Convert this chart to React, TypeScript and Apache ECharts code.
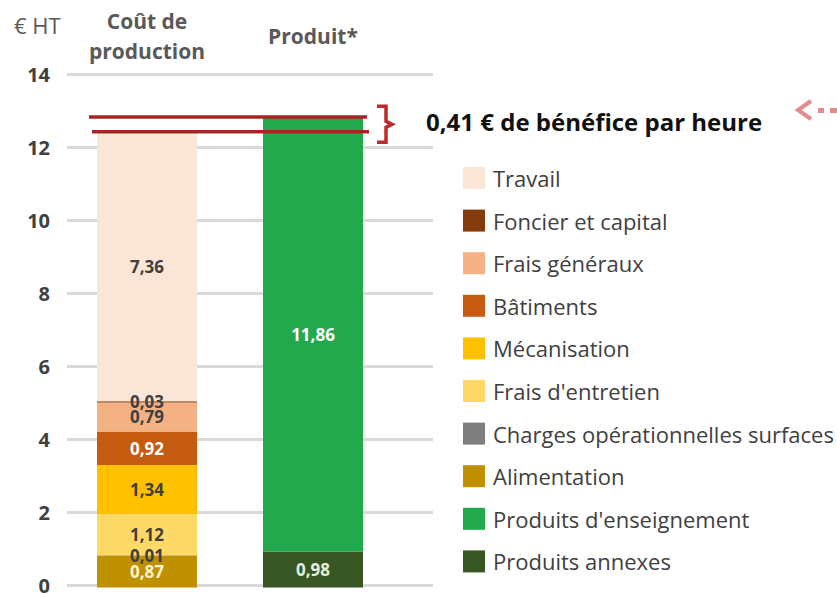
import React, { useEffect, useRef } from 'react';
import * as echarts from 'echarts';

const FONT = '"Open Sans", "Noto Sans", sans-serif';

const categories = ['Coût de\nproduction', 'Produit*'];
const yMin = 0;
const yMax = 14;
const yInterval = 2;

// values per category: [Coût de production, Produit*]
const alimentation = [0.87, null];
const chargesOperationnelles = [0.01, null];
const fraisEntretien = [1.12, null];
const mecanisation = [1.34, null];
const batiments = [0.92, null];
const fraisGeneraux = [0.79, null];
const foncierCapital = [0.03, null];
const travail = [7.36, null];
const produitsAnnexes = [null, 0.98];
const produitsEnseignement = [null, 11.86];

const legendOrder = [
  'Travail',
  'Foncier et capital',
  'Frais généraux',
  'Bâtiments',
  'Mécanisation',
  "Frais d'entretien",
  'Charges opérationnelles surfaces',
  'Alimentation',
  "Produits d'enseignement",
  'Produits annexes',
];

const benefitText = '0,41 € de bénéfice par heure';
const unitText = '€ HT';

const seriesDefs = [
  { name: 'Produits annexes', data: produitsAnnexes, color: '#375623', label: '#e2efda' },
  { name: "Produits d'enseignement", data: produitsEnseignement, color: '#22a84d', label: '#ffffff' },
  { name: 'Alimentation', data: alimentation, color: '#bf9000', label: '#fff2cc' },
  { name: 'Charges opérationnelles surfaces', data: chargesOperationnelles, color: '#7f7f7f', label: '#404040' },
  { name: "Frais d'entretien", data: fraisEntretien, color: '#ffd966', label: '#404040' },
  { name: 'Mécanisation', data: mecanisation, color: '#ffc000', label: '#404040' },
  { name: 'Bâtiments', data: batiments, color: '#c55a11', label: '#ffffff' },
  { name: 'Frais généraux', data: fraisGeneraux, color: '#f4b183', label: '#404040' },
  { name: 'Foncier et capital', data: foncierCapital, color: '#843c0c', label: '#404040' },
  { name: 'Travail', data: travail, color: '#fbe5d6', label: '#404040' },
];

const fmt = (v: number) => v.toFixed(2).replace('.', ',');

export default function App() {
  const ref = useRef<HTMLDivElement>(null);

  useEffect(() => {
    if (!ref.current) return;
    const chart = echarts.init(ref.current, null, { renderer: 'svg' });

    const series = seriesDefs.map((s) => ({
      name: s.name,
      type: 'bar',
      stack: 'total',
      xAxisIndex: 1,
      yAxisIndex: 1,
      barWidth: 100,
      data: s.data,
      itemStyle: { color: s.color },
      label: {
        show: true,
        position: 'inside',
        color: s.label,
        fontFamily: FONT,
        fontWeight: 'bold',
        fontSize: 17,
        formatter: (p: any) => (p.value == null ? '' : fmt(p.value)),
      },
    }));

    chart.setOption({
      animation: false,
      backgroundColor: '#ffffff',
      title: {
        text: unitText,
        left: 9,
        top: 9,
        textStyle: { fontFamily: FONT, fontSize: 22, fontWeight: 'normal', color: '#595959' },
      },
      legend: {
        data: legendOrder,
        orient: 'vertical',
        left: 463,
        top: 167,
        padding: 0,
        itemWidth: 22,
        itemHeight: 22,
        itemGap: 20.6,
        icon: 'rect',
        textStyle: {
          fontFamily: FONT,
          fontSize: 22,
          color: '#404040',
          padding: [0, 0, 0, 3],
        },
        selectedMode: false,
      },
      grid: [
        { left: 67, right: 404, top: 74.5, bottom: 7.5 },
        { left: 64, width: 332, top: 74.5, bottom: 7.5 },
      ],
      xAxis: [
        { type: 'value', gridIndex: 0, min: 0, max: 1, show: false },
        {
          type: 'category',
          gridIndex: 1,
          data: categories,
          position: 'top',
          axisLine: { show: false },
          axisTick: { show: false },
          axisLabel: {
            margin: 39,
            verticalAlign: 'middle',
            lineHeight: 30,
            fontFamily: FONT,
            fontWeight: 'bold',
            fontSize: 21,
            color: '#595959',
          },
        },
      ],
      yAxis: [
        {
          type: 'value',
          gridIndex: 0,
          min: yMin,
          max: yMax,
          interval: yInterval,
          axisLine: { show: false },
          axisTick: { show: false },
          splitLine: { lineStyle: { color: '#d9d9d9', width: 3 } },
          axisLabel: {
            margin: 17,
            fontFamily: FONT,
            fontWeight: 'bold',
            fontSize: 20,
            color: '#404040',
          },
        },
        { type: 'value', gridIndex: 1, min: yMin, max: yMax, show: false },
      ],
      series,
    });

    const sumAt = (i: number) =>
      seriesDefs.reduce((acc, s) => acc + ((s.data[i] as number | null) ?? 0), 0);
    const costTotal = sumAt(0);
    const prodTotal = sumAt(1);
    const yC = chart.convertToPixel({ yAxisIndex: 1 }, costTotal) as number;
    const yP = chart.convertToPixel({ yAxisIndex: 1 }, prodTotal) as number;
    const c1 = chart.convertToPixel({ xAxisIndex: 1 }, categories[0]) as number;
    const c2 = chart.convertToPixel({ xAxisIndex: 1 }, categories[1]) as number;
    const mid = (yC + yP) / 2;
    const bx = c2 + 73;
    const red = '#a52424';
    const pink = '#e38a8c';

    chart.setOption({
      graphic: [
        {
          type: 'line',
          shape: { x1: c1 - 58, y1: yP, x2: c2 + 54, y2: yP },
          style: { stroke: red, lineWidth: 3.5 },
          z: 100,
        },
        {
          type: 'line',
          shape: { x1: c1 - 55, y1: yC, x2: c2 + 56, y2: yC },
          style: { stroke: red, lineWidth: 3.5 },
          z: 100,
        },
        {
          type: 'polyline',
          shape: {
            points: [
              [bx - 9, mid - 18],
              [bx, mid - 18],
              [bx, mid - 3],
              [bx + 6, mid],
              [bx, mid + 3],
              [bx, mid + 18],
              [bx - 9, mid + 18],
            ],
          },
          style: { stroke: '#c0282c', lineWidth: 3.5, fill: 'none' },
          z: 100,
        },
        {
          type: 'text',
          x: 426,
          y: mid - 3,
          style: {
            text: benefitText,
            fontFamily: FONT,
            fontWeight: 'bold',
            fontSize: 24,
            fill: '#111111',
            verticalAlign: 'middle',
            align: 'left',
          },
          z: 100,
        },
        {
          type: 'polyline',
          shape: { points: [[811, 101], [798, 110], [811, 119]] },
          style: { stroke: pink, lineWidth: 4, fill: 'none' },
          z: 100,
        },
        { type: 'rect', shape: { x: 818, y: 108, width: 6, height: 5 }, style: { fill: pink }, z: 100 },
        { type: 'rect', shape: { x: 830, y: 108, width: 7, height: 5 }, style: { fill: pink }, z: 100 },
      ],
    });

    return () => chart.dispose();
  }, []);

  return (
    <div
      ref={ref}
      style={{ position: 'fixed', left: 0, top: 0, width: 837, height: 595 }}
    />
  );
}
